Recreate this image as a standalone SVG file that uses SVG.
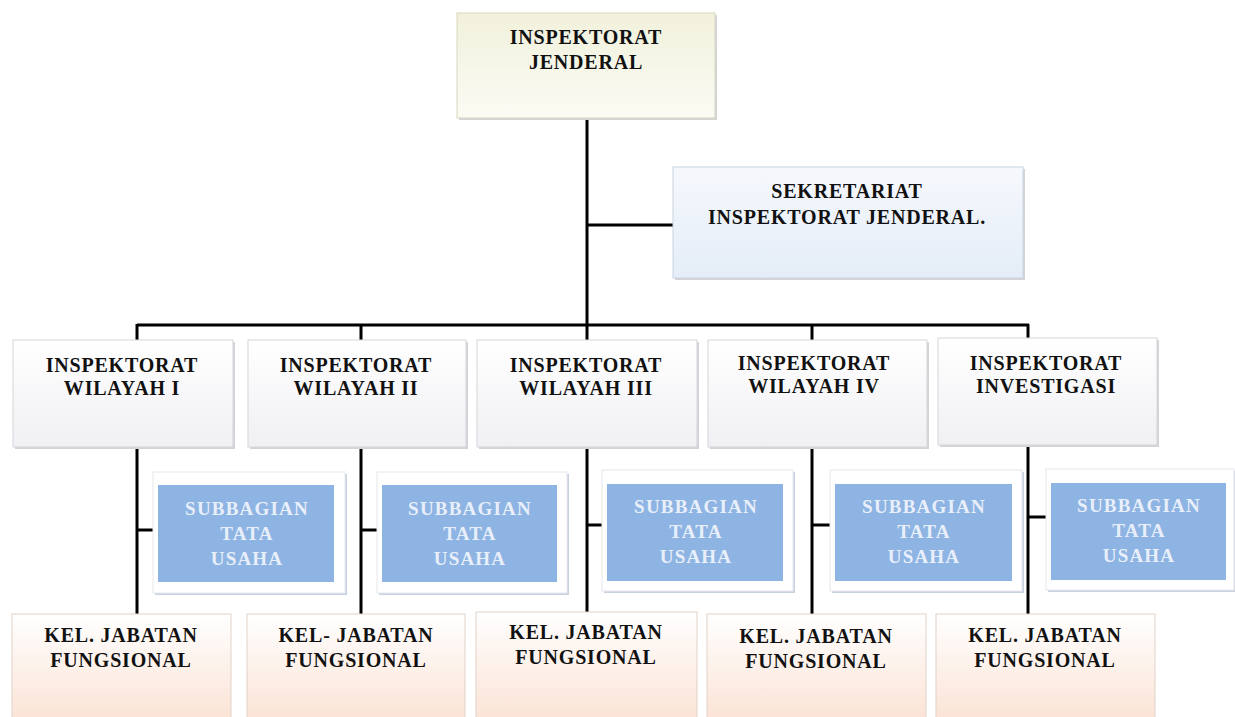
<svg xmlns="http://www.w3.org/2000/svg" width="1235" height="717" viewBox="0 0 1235 717">
<defs>
<linearGradient id="gTop" x1="0" y1="0" x2="0" y2="1"><stop offset="0" stop-color="#f1f1dc"/><stop offset="1" stop-color="#fbfbf4"/></linearGradient>
<linearGradient id="gSek" x1="0" y1="0" x2="0" y2="1"><stop offset="0" stop-color="#f6f8fc"/><stop offset="1" stop-color="#e4edf8"/></linearGradient>
<linearGradient id="gRow" x1="0" y1="0" x2="0" y2="1"><stop offset="0" stop-color="#ffffff"/><stop offset="1" stop-color="#f0f0f4"/></linearGradient>
<linearGradient id="gBot" x1="0" y1="0" x2="0" y2="1"><stop offset="0" stop-color="#ffffff"/><stop offset="1" stop-color="#fbe2d4"/></linearGradient>
<style>
.t{font-family:"Liberation Serif","Times New Roman",serif;font-weight:bold;font-size:20px;letter-spacing:0.8px;fill:#111;text-anchor:middle}
.w{font-family:"Liberation Serif","Times New Roman",serif;font-weight:bold;font-size:19px;letter-spacing:1.2px;fill:#e9effa;text-anchor:middle}
.sh{fill:#d4d4d8}
.row{fill:url(#gRow);stroke:#d6d6da;stroke-width:1}
.bot{fill:url(#gBot);stroke:#e2d2c8;stroke-width:1}
.outer{fill:#ffffff;stroke:#e8e8ee;stroke-width:1}
.oshadow{fill:#c9d2e0}
.blue{fill:#8db4e2}
.ln{stroke:#000;stroke-width:3;fill:none}
</style>
</defs>
<rect width="1235" height="717" fill="#ffffff"/>

<g id="connectors">
<line class="ln" x1="587" y1="118" x2="587" y2="340"/>
<line class="ln" x1="587" y1="225" x2="678" y2="225"/>
<line class="ln" x1="137" y1="325" x2="1029" y2="325"/>
<line class="ln" x1="137" y1="324" x2="137" y2="340"/>
<line class="ln" x1="361" y1="325" x2="361" y2="340"/>
<line class="ln" x1="812" y1="325" x2="812" y2="340"/>
<line class="ln" x1="1028" y1="324" x2="1028" y2="340"/>
<line class="ln" x1="137" y1="447" x2="137" y2="614"/>
<line class="ln" x1="361" y1="447" x2="361" y2="614"/>
<line class="ln" x1="587" y1="447" x2="587" y2="614"/>
<line class="ln" x1="812" y1="447" x2="812" y2="614"/>
<line class="ln" x1="1028" y1="447" x2="1028" y2="614"/>
<line class="ln" x1="137" y1="530" x2="158" y2="530"/>
<line class="ln" x1="361" y1="530" x2="382" y2="530"/>
<line class="ln" x1="587" y1="525" x2="607" y2="525"/>
<line class="ln" x1="812" y1="525" x2="835" y2="525"/>
<line class="ln" x1="1028" y1="517" x2="1050" y2="517"/>
</g>

<g id="inspektorat-jenderal">
<rect x="459" y="15" width="258" height="105" class="sh"/>
<rect x="457" y="13" width="258" height="105" fill="url(#gTop)" stroke="#d8d8c2"/>
<text class="t" x="586" y="44">INSPEKTORAT</text>
<text class="t" x="586" y="69">JENDERAL</text>
</g>

<g id="sekretariat">
<rect x="675" y="169" width="350" height="111" class="sh"/>
<rect x="673" y="167" width="350" height="111" fill="url(#gSek)" stroke="#c9d4e2"/>
<text class="t" x="847" y="198">SEKRETARIAT</text>
<text class="t" x="847" y="224">INSPEKTORAT JENDERAL.</text>
</g>

<g id="wilayah-1">
<rect x="15" y="342" width="220" height="107" class="sh"/>
<rect x="13" y="340" width="220" height="107" class="row"/>
<text class="t" x="122" y="372">INSPEKTORAT</text>
<text class="t" x="122" y="395">WILAYAH I</text>
</g>
<g id="wilayah-2">
<rect x="250" y="342" width="218" height="107" class="sh"/>
<rect x="248" y="340" width="218" height="107" class="row"/>
<text class="t" x="356" y="372">INSPEKTORAT</text>
<text class="t" x="356" y="395">WILAYAH II</text>
</g>
<g id="wilayah-3">
<rect x="479" y="342" width="220" height="107" class="sh"/>
<rect x="477" y="340" width="220" height="107" class="row"/>
<text class="t" x="586" y="372">INSPEKTORAT</text>
<text class="t" x="586" y="395">WILAYAH III</text>
</g>
<g id="wilayah-4">
<rect x="710" y="342" width="219" height="107" class="sh"/>
<rect x="708" y="340" width="219" height="107" class="row"/>
<text class="t" x="814" y="370">INSPEKTORAT</text>
<text class="t" x="814" y="393">WILAYAH IV</text>
</g>
<g id="investigasi">
<rect x="940" y="340" width="219" height="107" class="sh"/>
<rect x="938" y="338" width="219" height="107" class="row"/>
<text class="t" x="1046" y="370">INSPEKTORAT</text>
<text class="t" x="1046" y="393">INVESTIGASI</text>
</g>

<g id="subbagian-1">
<rect x="155" y="474" width="192" height="121" class="oshadow"/>
<rect x="153" y="472" width="192" height="121" class="outer"/>
<rect x="158" y="485" width="176" height="97" class="blue"/>
<text class="w" x="247" y="515">SUBBAGIAN</text>
<text class="w" x="247" y="540">TATA</text>
<text class="w" x="247" y="565">USAHA</text>
</g>
<g id="subbagian-2">
<rect x="379" y="474" width="190" height="121" class="oshadow"/>
<rect x="377" y="472" width="190" height="121" class="outer"/>
<rect x="382" y="485" width="175" height="97" class="blue"/>
<text class="w" x="470" y="515">SUBBAGIAN</text>
<text class="w" x="470" y="540">TATA</text>
<text class="w" x="470" y="565">USAHA</text>
</g>
<g id="subbagian-3">
<rect x="604" y="472" width="191" height="121" class="oshadow"/>
<rect x="602" y="470" width="191" height="121" class="outer"/>
<rect x="607" y="484" width="176" height="97" class="blue"/>
<text class="w" x="696" y="513">SUBBAGIAN</text>
<text class="w" x="696" y="538">TATA</text>
<text class="w" x="696" y="563">USAHA</text>
</g>
<g id="subbagian-4">
<rect x="832" y="472" width="192" height="121" class="oshadow"/>
<rect x="830" y="470" width="192" height="121" class="outer"/>
<rect x="835" y="484" width="177" height="97" class="blue"/>
<text class="w" x="924" y="513">SUBBAGIAN</text>
<text class="w" x="924" y="538">TATA</text>
<text class="w" x="924" y="563">USAHA</text>
</g>
<g id="subbagian-5">
<rect x="1048" y="471" width="188" height="121" class="oshadow"/>
<rect x="1046" y="469" width="188" height="121" class="outer"/>
<rect x="1051" y="483" width="175" height="97" class="blue"/>
<text class="w" x="1139" y="512">SUBBAGIAN</text>
<text class="w" x="1139" y="537">TATA</text>
<text class="w" x="1139" y="562">USAHA</text>
</g>

<g id="fungsional-1">
<rect x="12" y="614" width="219" height="110" class="bot"/>
<text class="t" x="121" y="642">KEL. JABATAN</text>
<text class="t" x="121" y="667">FUNGSIONAL</text>
</g>
<g id="fungsional-2">
<rect x="247" y="614" width="218" height="110" class="bot"/>
<text class="t" x="356" y="642">KEL- JABATAN</text>
<text class="t" x="356" y="667">FUNGSIONAL</text>
</g>
<g id="fungsional-3">
<rect x="476" y="612" width="221" height="112" class="bot"/>
<text class="t" x="586" y="639">KEL. JABATAN</text>
<text class="t" x="586" y="664">FUNGSIONAL</text>
</g>
<g id="fungsional-4">
<rect x="707" y="614" width="219" height="110" class="bot"/>
<text class="t" x="816" y="643">KEL. JABATAN</text>
<text class="t" x="816" y="668">FUNGSIONAL</text>
</g>
<g id="fungsional-5">
<rect x="936" y="614" width="219" height="110" class="bot"/>
<text class="t" x="1045" y="642">KEL. JABATAN</text>
<text class="t" x="1045" y="667">FUNGSIONAL</text>
</g>
</svg>
